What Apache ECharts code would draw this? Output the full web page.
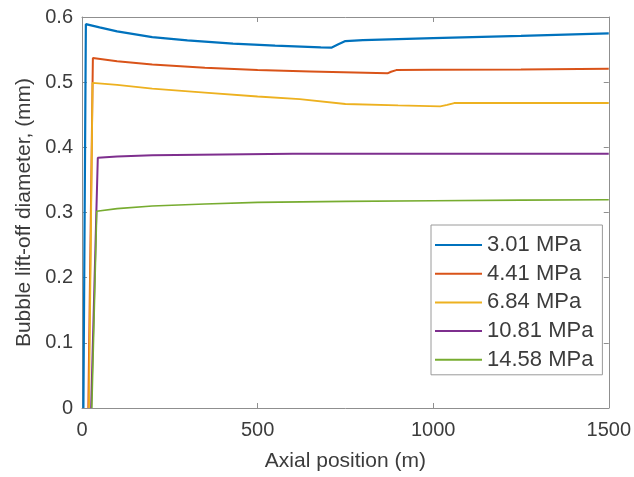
<!DOCTYPE html>
<html>
<head>
<meta charset="utf-8">
<script src="https://cdn.jsdelivr.net/npm/echarts@6/dist/echarts.min.js"></script>
<style>
html,body{margin:0;padding:0;background:#fff;}
#chart{width:634px;height:477px;}
</style>
</head>
<body>
<div id="chart"></div>
<script>
// Legend names
const seriesNames = ['3.01 MPa', '4.41 MPa', '6.84 MPa', '10.81 MPa', '14.58 MPa'];
// Axial position (m) and bubble lift-off diameter (mm) per series
const x301 = [4, 11, 50, 100, 200, 300, 430, 550, 680, 710, 730, 750, 800, 1000, 1250, 1500];
const y301 = [0, 0.589, 0.584, 0.578, 0.569, 0.564, 0.559, 0.556, 0.5535, 0.553, 0.558, 0.563, 0.5645, 0.5675, 0.571, 0.575];
const x441 = [18, 31, 100, 200, 350, 500, 650, 870, 880, 895, 1000, 1250, 1500];
const y441 = [0, 0.537, 0.532, 0.527, 0.522, 0.5185, 0.5165, 0.5135, 0.516, 0.5185, 0.519, 0.5195, 0.5205];
const x684 = [20, 30, 100, 200, 350, 500, 620, 750, 900, 1020, 1040, 1060, 1250, 1500];
const y684 = [0, 0.499, 0.496, 0.490, 0.484, 0.478, 0.474, 0.4665, 0.4645, 0.463, 0.465, 0.468, 0.468, 0.468];
const x1081 = [26, 45, 100, 200, 400, 600, 1000, 1500];
const y1081 = [0, 0.384, 0.386, 0.388, 0.389, 0.390, 0.390, 0.390];
const x1458 = [28, 42, 100, 200, 350, 500, 750, 1000, 1250, 1500];
const y1458 = [0, 0.302, 0.306, 0.310, 0.313, 0.3155, 0.317, 0.318, 0.319, 0.3195];
// Axis ticks
const xTicks = [0, 500, 1000, 1500];
const yTicks = [0, 0.1, 0.2, 0.3, 0.4, 0.5, 0.6];

const xs = [x301, x441, x684, x1081, x1458];
const ys = [y301, y441, y684, y1081, y1458];
const colors = ['#0072BD', '#D95319', '#EDB120', '#7E2F8E', '#77AC30'];
const widths = [2.2, 2, 1.8, 2, 1.6];

const FONT = '"Liberation Sans", Arial, sans-serif';
const TXT = '#3c3c3c';
const AX = '#8f8f8f';

const chart = echarts.init(document.getElementById('chart'), null, {renderer: 'canvas'});

const series = seriesNames.map((name, i) => ({
  name: name,
  type: 'line',
  xAxisIndex: 0,
  yAxisIndex: 0,
  showSymbol: false,
  symbol: 'none',
  animation: false,
  color: colors[i],
  lineStyle: {width: widths[i], color: colors[i]},
  data: xs[i].map((x, k) => [x, ys[i][k]])
}));

const boxAxisX = (pos, show) => ({
  type: 'value', position: pos, min: xTicks[0], max: xTicks[xTicks.length-1], interval: 500,
  axisLine: {show: true, onZero: false, lineStyle: {color: AX, width: 1}},
  axisTick: {show: true, inside: true, length: 5, lineStyle: {color: AX}},
  splitLine: {show: false},
  axisLabel: {show: show, color: TXT, fontFamily: FONT, fontSize: 20, margin: 12,
    formatter: v => String(v)}
});
const boxAxisY = (pos, show) => ({
  type: 'value', position: pos, min: yTicks[0], max: yTicks[yTicks.length-1], interval: 0.1,
  axisLine: {show: true, onZero: false, lineStyle: {color: AX, width: 1}},
  axisTick: {show: true, inside: true, length: 5, lineStyle: {color: AX}},
  splitLine: {show: false},
  axisLabel: {show: show, color: TXT, fontFamily: FONT, fontSize: 20, margin: 9,
    formatter: v => String(Math.round(v * 10) / 10)}
});

const xMain = Object.assign(boxAxisX('bottom', true), {
  name: 'Axial position (m)', nameLocation: 'middle', nameGap: 43,
  nameTextStyle: {color: TXT, fontFamily: FONT, fontSize: 21}
});
const yMain = Object.assign(boxAxisY('left', true), {
  name: 'Bubble lift-off diameter, (mm)', nameLocation: 'middle', nameGap: 40,
  nameTextStyle: {color: TXT, fontFamily: FONT, fontSize: 21}
});

chart.setOption({
  animation: false,
  backgroundColor: '#ffffff',
  grid: {left: 82, right: 25, top: 17, bottom: 65, containLabel: false},
  xAxis: [xMain, boxAxisX('top', false)],
  yAxis: [yMain, boxAxisY('right', false)],
  legend: {
    orient: 'vertical',
    left: 431, top: 225,
    data: seriesNames,
    icon: 'rect',
    itemWidth: 47, itemHeight: 2,
    itemGap: 6.7,
    padding: [9, 9, 4, 4],
    backgroundColor: '#ffffff',
    borderColor: '#9a9a9a', borderWidth: 1, borderRadius: 0,
    textStyle: {color: TXT, fontFamily: FONT, fontSize: 22, lineHeight: 22}
  },
  series: series
});
</script>
</body>
</html>
